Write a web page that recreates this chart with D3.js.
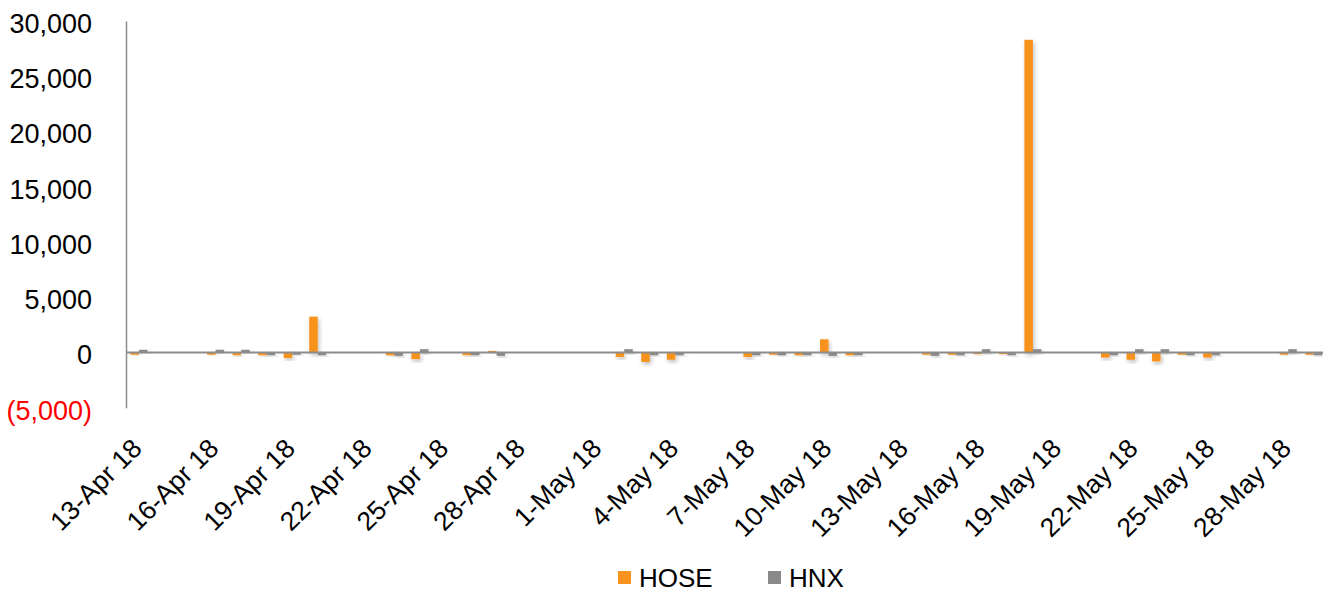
<!DOCTYPE html>
<html>
<head>
<meta charset="utf-8">
<script src="https://cdn.jsdelivr.net/npm/d3@7"></script>
<style>
  body { margin: 0; background: #fff; }
  svg { display: block; font-family: "Liberation Sans", Arial, sans-serif; }
</style>
</head>
<body>
<div id="chart"></div>
<script>
// trading days shown on the chart
var dates = ["2018-04-13","2018-04-16","2018-04-17","2018-04-18","2018-04-19","2018-04-20",
  "2018-04-23","2018-04-24","2018-04-26","2018-04-27",
  "2018-05-02","2018-05-03","2018-05-04","2018-05-07","2018-05-08","2018-05-09","2018-05-10","2018-05-11",
  "2018-05-14","2018-05-15","2018-05-16","2018-05-17","2018-05-18",
  "2018-05-21","2018-05-22","2018-05-23","2018-05-24","2018-05-25","2018-05-28","2018-05-29"];

var hose = [-200, -200, -250, -250, -500, 3250,
  -250, -600, -250, 150,
  -400, -850, -650, -400, -200, -250, 1200, -250,
  -200, -200, -150, -150, 28300,
  -450, -650, -800, -200, -450, -200, -200];

var hnx = [250, 250, 250, -250, -200, -250,
  -300, 300, -250, -300,
  300, -250, -250, -250, -250, -250, -300, -250,
  -300, -250, 300, -250, 300,
  -250, 300, 300, -250, -250, 300, -250];

var seriesNames = ["HOSE", "HNX"];
var seriesColors = ["#F7931E", "#898989"];

var tickDates = ["2018-04-13","2018-04-16","2018-04-19","2018-04-22","2018-04-25","2018-04-28",
  "2018-05-01","2018-05-04","2018-05-07","2018-05-10","2018-05-13","2018-05-16",
  "2018-05-19","2018-05-22","2018-05-25","2018-05-28"];

var yTicks = [-5000, 0, 5000, 10000, 15000, 20000, 25000, 30000];

var width = 1323, height = 592;
var parse = d3.utcParse("%Y-%m-%d");

var svg = d3.select("#chart").append("svg")
    .attr("width", width)
    .attr("height", height);

// soft shadow like the original bars
var defs = svg.append("defs");
defs.append("filter").attr("id", "shadow")
    .attr("x", "-50%").attr("y", "-50%").attr("width", "200%").attr("height", "200%")
  .append("feDropShadow")
    .attr("dx", 1.5).attr("dy", 2.5).attr("stdDeviation", 2)
    .attr("flood-color", "#000").attr("flood-opacity", 0.25);

// date axis, one slot per calendar day
var x = d3.scaleUtc()
    .domain([parse("2018-04-13"), parse("2018-05-30")])
    .range([126.2, 1326.6]);
var slot = x(parse("2018-04-14")) - x(parse("2018-04-13"));
var barW = slot / 3;

var y = d3.scaleLinear()
    .domain([-5000, 30000])
    .range([407.8, 21]);

var data = dates.map(function(d, i) {
  return {date: parse(d), values: [hose[i], hnx[i]]};
});

// bars
var groups = svg.append("g").selectAll("g")
  .data(data)
  .join("g")
    .attr("transform", d => `translate(${x(d.date) + slot / 2 - barW},0)`);

groups.selectAll("rect")
  .data(d => d.values.map((v, k) => ({v: v, k: k})))
  .join("rect")
    .attr("x", d => d.k * barW)
    .attr("y", d => y(Math.max(0, d.v)))
    .attr("width", barW)
    .attr("height", d => Math.abs(y(d.v) - y(0)))
    .attr("fill", d => seriesColors[d.k])
    .attr("filter", "url(#shadow)");

// zero line
svg.append("line")
    .attr("x1", 126).attr("x2", width)
    .attr("y1", y(0)).attr("y2", y(0))
    .attr("stroke", "#8c8c8c")
    .attr("stroke-width", 2);

// y axis
var fmt = d3.format(",");
var yAxis = svg.append("g")
    .attr("transform", "translate(126,0)")
    .call(d3.axisLeft(y).tickValues(yTicks).tickSize(0).tickSizeOuter(0).tickPadding(34)
      .tickFormat(d => d < 0 ? "(" + fmt(-d) + ")" : fmt(d)));
yAxis.select(".domain").attr("stroke", "#8c8c8c").attr("stroke-width", 1.5);
yAxis.selectAll("text")
    .attr("font-size", "27px")
    .attr("font-family", "Liberation Sans, Arial, sans-serif")
    .attr("dy", "0.42em")
    .attr("fill", d => d < 0 ? "#ff0000" : "#000");

// x axis labels
var xLab = x.copy().range(x.range().map(r => r + slot / 2 + 4));
var xAxis = svg.append("g")
    .attr("transform", "translate(0,450)")
    .call(d3.axisBottom(xLab).tickValues(tickDates.map(parse)).tickSize(0)
      .tickFormat(d3.utcFormat("%-d-%b %y")));
xAxis.select(".domain").remove();
xAxis.selectAll("text")
    .attr("font-size", "26.5px")
    .attr("font-family", "Liberation Sans, Arial, sans-serif")
    .attr("fill", "#000")
    .attr("x", 0).attr("y", 0).attr("dy", 0)
    .attr("text-anchor", "end")
    .attr("transform", "rotate(-45)");

// legend
var legendX = [618, 768];
var legend = svg.append("g").selectAll("g")
  .data(seriesNames)
  .join("g")
    .attr("transform", (d, i) => `translate(${legendX[i]},571)`);
legend.append("rect")
    .attr("width", 13).attr("height", 13)
    .attr("fill", (d, i) => seriesColors[i]);
legend.append("text")
    .attr("x", 21).attr("y", 16)
    .attr("font-size", "26px")
    .attr("fill", "#000")
    .text(d => d);
</script>
</body>
</html>
